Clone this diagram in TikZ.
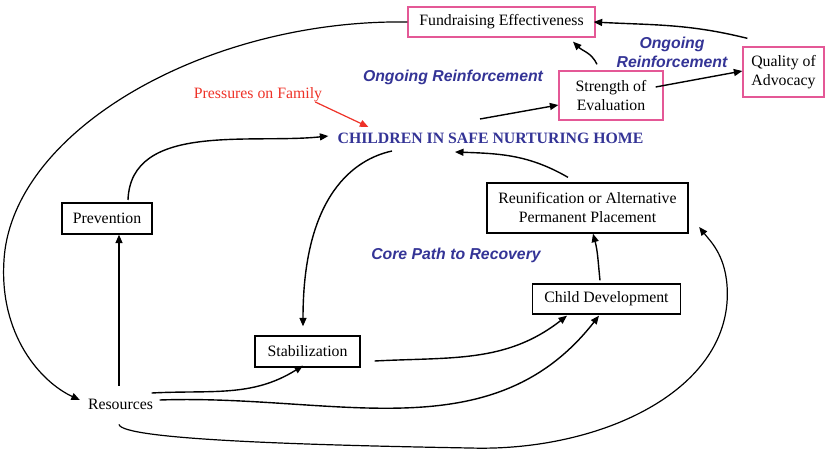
\documentclass[tikz,border=0pt]{standalone}
\usepackage{fontspec}
\setmainfont{Liberation Serif}
\setsansfont{Liberation Sans}
\usetikzlibrary{arrows.meta,calc}
\definecolor{pinkc}{RGB}{228,88,150}
\definecolor{bluec}{RGB}{52,52,150}
\definecolor{redc}{RGB}{238,50,40}
\begin{document}
\begin{tikzpicture}[x=1pt,y=1pt,
  every node/.style={font=\fontsize{15.8}{19}\selectfont, inner sep=0pt, align=center},
  blkbox/.style={draw=black, line width=1.3pt},
  pinkbox/.style={draw=pinkc, line width=1.3pt},
  bluelabel/.style={text=bluec, font=\fontsize{15.8}{19}\selectfont\sffamily\bfseries\itshape},
  arr/.style={-{Triangle[length=8.5pt,width=7pt]}, line width=1.4pt},
  thin arr/.style={-{Triangle[length=8.5pt,width=7pt]}, line width=1.2pt}]
\useasboundingbox (0,0) rectangle (826,450);

% boxes
\node[pinkbox, minimum width=187, minimum height=30] (fund) at (501.5,428) {Fundraising Effectiveness};
\node[pinkbox, minimum width=104, minimum height=49] (str) at (611,354.5) {Strength of\\Evaluation};
\node[pinkbox, minimum width=81, minimum height=50] (qual) at (783.5,378) {Quality of\\Advocacy};
\node[blkbox, minimum width=90, minimum height=31] (prev) at (107,231.5) {Prevention};
\node[blkbox, minimum width=201, minimum height=50] (reun) at (587.5,242) {Reunification or Alternative\\Permanent Placement};
\node[blkbox, minimum width=148, minimum height=30] (cdev) at (606.5,151) {Child Development};
\node[blkbox, minimum width=105, minimum height=31] (stab) at (307.5,98.5) {Stabilization};
\node (res) at (120.5,46) {Resources};

% labels
\node[text=bluec, font=\fontsize{15.8}{19}\selectfont\bfseries] (child) at (490.5,312) {CHILDREN IN SAFE NURTURING HOME};
\node[text=redc] (press) at (258,355) {Pressures on Family};
\node[bluelabel] (og1) at (453,373) {Ongoing Reinforcement};
\node[bluelabel] (og2) at (672,397.5) {Ongoing\\Reinforcement};
\node[bluelabel] (core) at (456,195) {Core Path to Recovery};

% connectors
\draw[arr] ($(qual.north west)+(5,8)$) to[out=166,in=-3] ($(fund.east)+(-2,0)$);
\draw[arr] ($(str.north)+(-14,6)$) to[out=115,in=-45] ($(fund.south)+(71.5,-4)$);
\draw[arr] ($(str.east)+(-8,8.5)$) -- ($(qual.west)+(0,1)$);
\draw[arr] ($(child.center)+(-10.5,19)$) -- ($(str.west)+(0,-9.5)$);
\draw[arr, redc, line width=1.2pt] ($(press.east)+(-7,-7)$) -- ($(child.west)+(31,11)$);

\draw[thin arr] (fund.west) .. controls +(-200,3) and +(8,130) .. (4,190)
   .. controls +(-5,-75) and +(-39,18) .. ($(res.west)+(-8,4)$);
\draw[arr] ($(prev.center)+(21,18.5)$) to[out=88,in=186,looseness=0.95] ($(child.west)+(-9,2)$);
\draw[arr] ($(res.north)+(-1.5,13)$) -- ($(prev.south)+(12,0)$);
\draw[arr] ($(child.center)+(-98.5,-13)$) .. controls +(-37,-8) and +(0,132) .. ($(stab.north)+(-4.5,9)$);
\draw[arr] ($(reun.north)+(-19.5,5)$) to[out=150,in=-2] ($(child.center)+(-35.5,-14)$);
\draw[arr] ($(cdev.north)+(-6.5,3)$) to[out=96,in=-75] ($(reun.south)+(5.5,0)$);
\draw[arr] ($(stab.east)+(14,-9.5)$) to[out=3,in=218] ($(cdev.south)+(-39.5,-1)$);
\draw[arr] ($(res.east)+(-1.5,11)$) to[out=3,in=212] ($(stab.south)+(-4.5,2)$);
\draw[arr] ($(res.east)+(6.5,4)$) to[out=2,in=232] ($(cdev.south)+(-7.5,-1)$);
\draw[thin arr] ($(res.south)+(-1.5,-15)$) .. controls +(3,-15) and +(-170,3) .. (470,2)
   .. controls +(130,-4) and +(8,-105) .. (727,165)
   .. controls +(-2.5,31) and +(11,-14) .. ($(reun.east)+(10.5,-19)$);
\end{tikzpicture}
\end{document}
